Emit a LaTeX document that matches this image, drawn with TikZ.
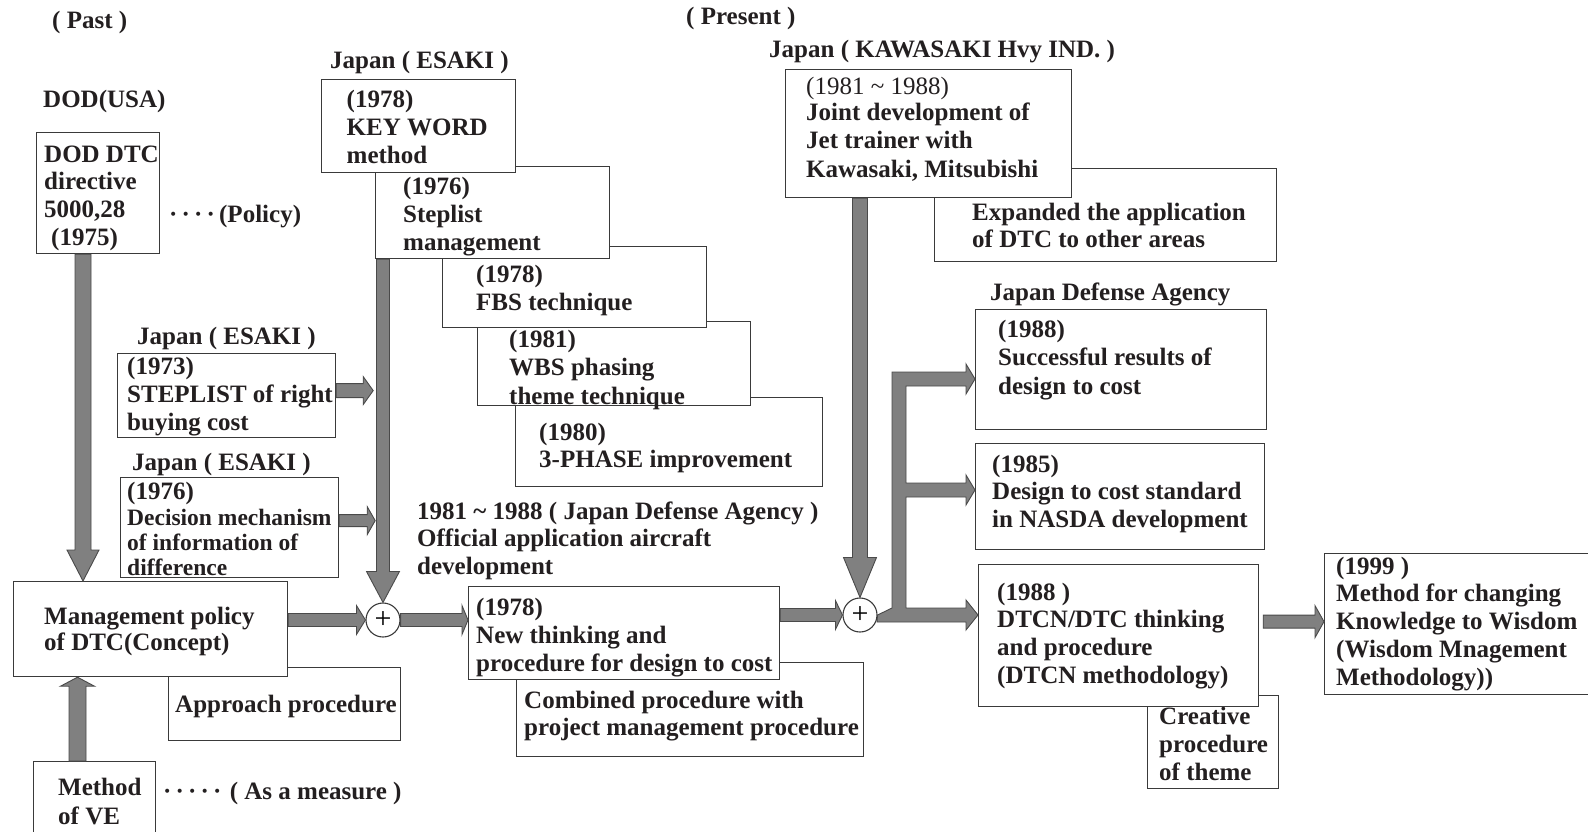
\documentclass[tikz,border=0pt]{standalone}
\usepackage{fontspec}
\setmainfont{Liberation Serif}
\usetikzlibrary{calc}
\definecolor{ink}{HTML}{231F20}
\definecolor{afill}{HTML}{808080}
\definecolor{aline}{HTML}{4A4A4A}
\definecolor{bline}{HTML}{3A3A3A}
\tikzset{
 lbl/.style={anchor=base west, inner sep=0pt, text=ink, font=\fontsize{25}{28}\selectfont\bfseries},
 lblreg/.style={font=\fontsize{25}{28}\selectfont},
 lblsm/.style={font=\fontsize{23.5}{26}\selectfont\bfseries},
 boxs/.style={draw=bline, line width=1.2pt, fill=white, inner sep=0pt, anchor=north west},
 blockarrow/.style={fill=afill, draw=aline, line width=0.9pt, line join=miter},
 plusnode/.style={circle, draw=bline, line width=1.1pt, fill=white, minimum size=34pt, inner sep=0pt, font=\fontsize{30}{30}\selectfont}
}
\newcommand\textlines[6][]{\foreach \mytext [count=\i from 0] in {#6}{\node[lbl,#1] (#2-\i) at ({#3},{#4+7+#5*\i}) {\mytext};}}
\newcommand\boxat[5]{\node[boxs, minimum width={(#4)-(#2)}, minimum height={(#5)-(#3)}] (#1) at (#2,#3) {};}
\newcommand\barrow[5]{%
 \path #1 coordinate (ba-s) #2 coordinate (ba-e);
 \path ($(ba-e)!#5pt!(ba-s)$) coordinate (ba-h);
 \draw[blockarrow] ($(ba-s)!#3pt!90:(ba-e)$) -- ($(ba-h)!#3pt!90:(ba-e)$) -- ($(ba-h)!#4pt!90:(ba-e)$) -- (ba-e)
   -- ($(ba-h)!#4pt!-90:(ba-e)$) -- ($(ba-h)!#3pt!-90:(ba-e)$) -- ($(ba-s)!#3pt!-90:(ba-e)$) -- cycle;}
\begin{document}
\begin{tikzpicture}[x=1pt,y=-1pt]
\useasboundingbox (0,0) rectangle (1588,831);
\fill[white] (0,0) rectangle (1588,831);
\clip (0,0) rectangle (1588,831);

% headings and labels
\node[lbl] (past) at (52,28) {( Past )};
\node[lbl] (present) at (686,24) {( Present )};
\node[lbl] (dodusa) at (43,107) {DOD(USA)};
\node[lbl] (jesaki1) at (330,68) {Japan ( ESAKI )};
\node[lbl] (jesaki2) at (137,344) {Japan ( ESAKI )};
\node[lbl] (jesaki3) at (132,470) {Japan ( ESAKI )};
\node[lbl] (policy) at (169,222) {·\,·\,·\,·\,(Policy)};
\node[lbl] (measure) at (163,799) {·\,·\,·\,·\,·\,\,( As a measure )};
\textlines{jda81}{417}{512}{27.5}{{1981 \textasciitilde{} 1988 ( Japan Defense Agency )},{Official application aircraft},{development}}
\node[lbl] (jkaw) at (769,57) {Japan ( KAWASAKI Hvy IND. )};
\node[lbl] (jda) at (990,300) {Japan Defense Agency};

% DOD box
\boxat{dod}{36}{132}{158.5}{253}
\textlines{dod}{44}{155}{27.7}{{DOD DTC},{directive},{5000,28},{\hspace*{7pt}(1975)}}

% stacked ESAKI boxes (back to front)
\boxat{ph3}{515}{397}{822}{486}
\textlines{ph3}{539}{433}{27}{{(1980)},{3-PHASE improvement}}
\boxat{wbs}{477}{321}{750}{405}
\textlines{wbs}{509}{340}{28.5}{{(1981)},{WBS phasing},{theme technique}}
\boxat{fbs}{442}{246}{706}{327}
\textlines{fbs}{476}{275}{28}{{(1978)},{FBS technique}}
\boxat{step}{375}{166}{609}{258}
\textlines{step}{403}{187}{28}{{(1976)},{Steplist},{management}}
\boxat{kw}{321}{79}{515}{172}
\textlines{kw}{346.5}{100}{28}{{(1978)},{KEY WORD},{method}}

% left side boxes
\boxat{stl}{117}{353}{335}{437}
\textlines{stl}{127}{367}{28}{{(1973)},{STEPLIST of right},{buying cost}}
\boxat{dec}{120}{477}{338}{577}
\textlines{deca}{127}{492}{28}{{(1976)}}
\textlines[lblsm]{dec}{127}{518}{25}{{Decision mechanism},{of information of},{difference}}
\boxat{appr}{168}{667}{400}{740}
\textlines{appr}{175}{705}{28}{{Approach procedure}}
\boxat{mgmt}{13}{581}{287}{676}
\textlines{mgmt}{44}{617}{26}{{Management policy},{of DTC(Concept)}}
\boxat{ve}{33}{761}{155}{850}
\textlines{ve}{58}{788}{29}{{Method},{of VE}}

% middle boxes
\boxat{comb}{516}{662}{863}{756}
\textlines{comb}{524}{701}{27}{{Combined procedure with},{project management procedure}}
\boxat{new}{468}{586}{779}{679}
\textlines{new}{476}{608}{28}{{(1978)},{New thinking and},{procedure for design to cost}}

% Kawasaki
\boxat{exp}{934}{168}{1276}{261}
\textlines{exp}{972}{213}{27}{{Expanded the application},{of DTC to other areas}}
\boxat{kaw}{785}{69}{1071}{197}
\textlines[lblreg]{kawa}{806}{87}{28}{{(1981 \textasciitilde{} 1988)}}
\textlines{kaw}{806}{113}{28.5}{{Joint development of},{Jet trainer with},{Kawasaki, Mitsubishi}}

% right side boxes
\boxat{s88}{975}{309}{1266}{429}
\textlines{s88}{998}{330}{28.5}{{(1988)},{Successful results of},{design to cost}}
\boxat{s85}{975}{443}{1264}{549}
\textlines{s85}{992}{465}{27.5}{{(1985)},{Design to cost standard},{in NASDA development}}
\boxat{crea}{1147}{695}{1278}{788}
\textlines{crea}{1159}{717}{28}{{Creative},{procedure},{of theme}}
\boxat{dtcn}{978}{564}{1258}{706}
\textlines{dtcn}{997}{593}{27.7}{{(1988 )},{DTCN/DTC thinking},{and procedure},{(DTCN methodology)}}
\boxat{m99}{1324}{553}{1610}{694}
\textlines{m99}{1336}{567}{27.75}{{(1999 )},{Method for changing},{Knowledge to Wisdom},{(Wisdom Mnagement},{Methodology))}}

% plus junctions
\node[plusnode] (plus1) at (383,620) {+};
\node[plusnode] (plus2) at (860,615) {+};

% block arrows
\barrow{($(dod.south west)+(47,0)$)}{($(mgmt.north west)+(70,0)$)}{8}{16}{31}
\barrow{(plus1.north |- step.south)}{(plus1.north)}{6.5}{16.5}{31}
\barrow{(plus2.north |- kaw.south)}{(plus2.north)}{7.5}{16.5}{40}
\barrow{($(stl.east)+(0,-5)$)}{($(stl.east)+(37,-5)$)}{7}{14}{10}
\barrow{($(dec.east)+(0,-7)$)}{($(dec.east)+(36,-7)$)}{6}{14}{8}
\barrow{(mgmt.east |- plus1)}{(plus1.west)}{6.5}{14.5}{9}
\barrow{(plus1.east)}{(new.west |- plus1)}{6.5}{14.5}{6}
\barrow{(new.east |- plus2)}{(plus2.west)}{6.5}{14.5}{7}
\barrow{($(ve.north west)+(44.5,0)$)}{($(mgmt.south west)+(64.5,0)$)}{8.5}{17}{9}
\barrow{($(dtcn.east)+(4,-14)$)}{($(m99.west)+(0,-2.5)$)}{6.5}{16}{9}

% branching arrow from plus2 to the three Defense Agency boxes
\draw[blockarrow] (plus2.east) -- (892,608) -- (892,372) -- (966,372) -- (966,364) -- (s88.west |- 0,379) -- (966,394) -- (966,386)
  -- (906,386) -- (906,483) -- (966,483) -- (966,475) -- (s85.west |- 0,490) -- (966,505) -- (966,497) -- (906,497)
  -- (906,608) -- (966,608) -- (966,600) -- (dtcn.west |- 0,615) -- (966,630) -- (966,622) -- (877,622) -- cycle;
\end{tikzpicture}
\end{document}
